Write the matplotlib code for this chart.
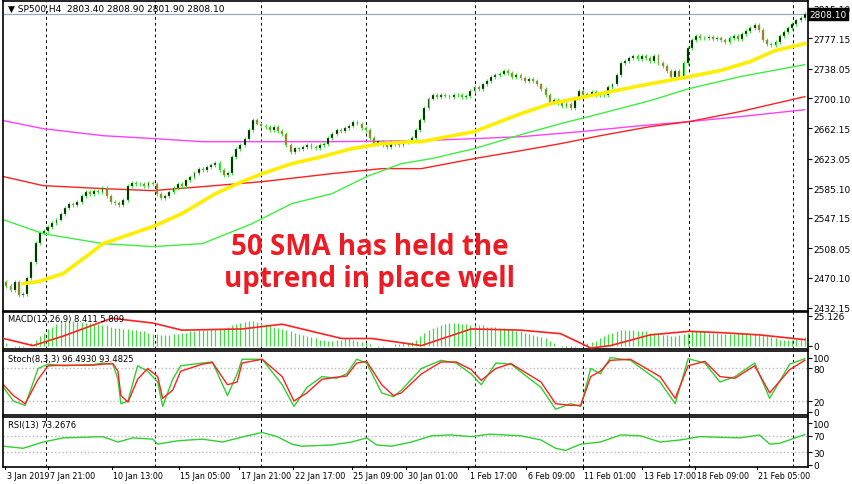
import numpy as np
import matplotlib
matplotlib.use("Agg")
from matplotlib import pyplot as plt

# closes of the H4 candles (bar index 0..)
closes = [2460, 2455, 2465, 2448, 2450, 2470, 2490, 2515, 2528, 2530, 2535, 2540,
          2545, 2552, 2560, 2565, 2563, 2568, 2575, 2580, 2578, 2582, 2580, 2585,
          2575, 2568, 2566, 2564, 2570, 2588, 2592, 2590, 2591, 2588, 2592, 2590,
          2578, 2572, 2575, 2580, 2585, 2590, 2588, 2595, 2600, 2605, 2610, 2608,
          2612, 2615, 2618, 2608, 2602, 2605, 2625, 2635, 2640, 2648, 2660, 2672,
          2668, 2665, 2663, 2660, 2664, 2658, 2655, 2640, 2632, 2636, 2635, 2638,
          2640, 2638, 2636, 2640, 2642, 2650, 2655, 2660, 2658, 2662, 2665, 2670,
          2668, 2662, 2660, 2650, 2642, 2645, 2640, 2638, 2645, 2642, 2640, 2644,
          2646, 2650, 2660, 2672, 2688, 2700, 2705, 2702, 2704, 2703, 2702, 2704,
          2705, 2702, 2703, 2710, 2715, 2712, 2718, 2722, 2728, 2730, 2732, 2735,
          2733, 2728, 2730, 2726, 2722, 2725, 2723, 2718, 2712, 2705, 2695, 2698,
          2694, 2690, 2693, 2688, 2700, 2710, 2705, 2706, 2708, 2704, 2706, 2705,
          2715, 2718, 2730, 2745, 2748, 2752, 2755, 2750, 2754, 2752, 2748, 2755,
          2745, 2742, 2735, 2728, 2735, 2728, 2745, 2765, 2775, 2780, 2778, 2777,
          2779, 2776, 2778, 2775, 2772, 2778, 2780, 2776, 2783, 2786, 2790, 2794,
          2788, 2775, 2770, 2768, 2772, 2780, 2785, 2790, 2795, 2800, 2803, 2808.1]
first_open = 2465

# moving averages, read at bar positions
sma50_x = [4, 7.6, 13.6, 20, 23.1, 35, 42, 50, 56.4, 61.2, 68.3, 75.5, 82.6, 89.8, 96.9,
           99.3, 111.9, 123.1, 130.2, 142.1, 151.7, 163.3, 170.7, 177.9, 183.8, 191]
sma50_y = [2462.9, 2465.4, 2475.7, 2501.3, 2514.1, 2535.9, 2552.5, 2578.1, 2593.5, 2603.8,
           2616.6, 2625.5, 2635.7, 2642.2, 2644.7, 2644.7, 2657.6, 2680.6, 2693.4, 2706.2,
           2716.5, 2728.0, 2735.7, 2747.2, 2761.3, 2770.3]
sma100_x = [-0.7, 8.8, 23.1, 35, 46.9, 58.8, 68.3, 77.9, 86.2, 94.5, 101.7, 111.9, 123.1,
            132.6, 142.1, 154, 163.3, 175.5, 191]
sma100_y = [2544.8, 2526.9, 2514.1, 2510.3, 2514.1, 2539.7, 2565.4, 2578.1, 2600.0, 2616.6,
            2623.0, 2635.7, 2653.7, 2667.8, 2680.6, 2697.3, 2712.6, 2728.0, 2743.4]
sma150_x = [-0.7, 8.8, 23.1, 35, 46.9, 61.2, 77.9, 89.8, 99.3, 111.9, 123.1, 132.6, 142.1,
            154, 163.3, 175.5, 191]
sma150_y = [2600.0, 2588.4, 2584.6, 2582.0, 2587.1, 2593.5, 2603.8, 2610.2, 2610.2, 2623.0,
            2633.2, 2642.2, 2652.4, 2664.0, 2670.4, 2683.2, 2702.4]
sma200_x = [-0.7, 8.8, 23.1, 35.5, 46.9, 61.2, 77.9, 99.3, 111.9, 123.1, 137.4, 151.7,
            163.3, 175.5, 191]
sma200_y = [2671.7, 2661.4, 2652.4, 2648.6, 2644.7, 2644.7, 2644.7, 2646.0, 2648.6, 2651.1,
            2657.6, 2665.2, 2670.4, 2676.8, 2685.7]

macd_hist = [2, 0, -1, -2, -1, 0, 2, 5, 8, 11,
             14, 16, 18, 19, 20, 21, 21, 20, 20, 19, 19, 18, 18, 17, 17, 16,
             15, 15, 14, 14, 13, 13, 12, 12, 11, 10, 10, 9, 9, 9, 10, 10, 11, 11, 12, 12,
             13, 13, 13, 14, 14, 15, 15, 16, 17, 18, 19, 20, 21,
             21, 20, 19, 18, 17, 16, 15, 14, 13, 12, 11, 10,
             9, 8, 7, 6, 5, 5, 4, 4, 5, 5, 6, 6, 5, 4, 3, 2,
             1, 0, -1, -1, 0, 0, 1, 1, 2, 2, 3, 5, 8, 11,
             13, 15, 16, 17, 18, 19, 19, 19, 18, 18, 17, 17, 17, 17, 16, 16, 16, 15, 15, 14,
             13, 12, 12, 11, 10, 9, 8, 7, 6, 4, 2, 0, -1, -2, -2, -1, 0, 1, 2,
             3, 4, 6, 8, 10, 11, 12, 13, 13, 13, 13, 12, 12, 12, 11, 11, 10, 9, 9, 8, 8,
             9, 10, 11, 12, 12, 12, 12, 11, 11, 11, 10, 10, 10, 10, 11, 11, 11, 10, 10, 9,
             9, 8, 7, 6, 5, 5, 5, 5, 6, 6, 7]
signal_x = [-0.7, 6.4, 13.6, 25.2, 35, 42, 56.4, 66, 70.7, 80.2, 87.4, 99.3, 111.2, 123.1,
            132.6, 139.8, 144.5, 154, 163.3, 170.4, 180.2, 191]
signal_y = [6, 0, 8, 23, 19, 13, 14, 18, 14, 6, 6, 0, 14, 13, 10, -2, 0, 9, 12, 11, 9, 5]

stoch_x = [-0.7, 1.7, 4.5, 7.6, 10, 13.6, 20.7, 23.1, 25.5, 26.7, 27.4, 29.1, 31.4, 33.8,
           36.2, 37.4, 39.8, 41.7, 46.9, 49.3, 52.9, 55.2, 56.4, 61.2, 66, 68.8, 71.9, 75.5,
           79, 81.4, 83.8, 86.2, 89.8, 92.6, 94.5, 99.3, 104, 107.6, 111.2, 113.6, 117.1,
           120.7, 127.9, 131.4, 135, 137.4, 139.8, 142.1, 144.5, 149.3, 156.4, 160, 163.1,
           167.1, 170.7, 174.3, 179, 182.6, 187.4, 191]
stoch_k = [45, 20, 12, 80, 88, 85, 87, 90, 88, 60, 15, 20, 85, 75, 55, 10, 60, 85, 90, 92,
           30, 70, 97, 97, 50, 10, 45, 65, 62, 70, 97, 90, 35, 28, 40, 80, 95, 90, 70, 50,
           90, 88, 45, 5, 15, 10, 80, 70, 100, 95, 55, 15, 98, 90, 55, 65, 90, 25, 88, 98]
stoch_d = [50, 30, 15, 60, 85, 86, 86, 88, 89, 75, 30, 18, 60, 80, 65, 25, 40, 75, 88, 91,
           50, 55, 90, 97, 65, 20, 35, 60, 64, 66, 90, 93, 50, 30, 35, 70, 92, 92, 78, 58,
           80, 89, 55, 15, 12, 12, 65, 75, 95, 97, 65, 25, 85, 93, 65, 62, 85, 35, 78, 95]

rsi_x = [-0.7, 4, 8.8, 13.6, 23.1, 26.7, 30.2, 35, 36.2, 41, 46.9, 51.7, 57.6, 61.2, 64.8,
         68.3, 70.7, 77.9, 82.6, 86.2, 88.6, 92.1, 96.9, 101.7, 106.4, 111.2, 115.7, 123.1,
         127.9, 131.4, 133.8, 137.4, 142.1, 146.9, 151.7, 156.4, 161.2, 165.9, 175.5, 180.2,
         182.6, 185, 191]
rsi_y = [45, 40, 55, 65, 68, 55, 65, 62, 50, 58, 62, 55, 70, 78, 68, 50, 45, 48, 55, 65, 48,
         45, 55, 70, 72, 68, 74, 70, 60, 40, 35, 50, 55, 72, 70, 55, 60, 68, 65, 72, 50, 52, 73]

date_pos = [-0.2, 10, 25.2, 41.2, 55.7, 68.6, 82.6, 95.7, 110.5, 124.3, 137.9, 152.1, 164.8, 179.5]
date_labels = ['3 Jan 2019', '7 Jan 21:00', '10 Jan 13:00', '15 Jan 05:00', '17 Jan 21:00',
               '22 Jan 17:00', '25 Jan 09:00', '30 Jan 01:00', '1 Feb 17:00', '6 Feb 09:00',
               '11 Feb 01:00', '13 Feb 17:00', '18 Feb 09:00', '21 Feb 05:00']
sep_pos = [9.5, 35.5, 61, 86, 112, 138, 163.3, 188.3]
price_ticks = [2432.15, 2470.10, 2508.05, 2547.15, 2585.10, 2623.05, 2662.15, 2700.10,
               2738.05, 2777.15, 2815.10]

plt.rcParams['font.family'] = ['DejaVu Sans']
fig = plt.figure(figsize=(8.52, 4.85), dpi=100)
L, W = 0.004, 0.944
ax = fig.add_axes([L, 0.357, W, 0.639])
ax_m = fig.add_axes([L, 0.278, W, 0.076])
ax_s = fig.add_axes([L, 0.142, W, 0.132])
ax_r = fig.add_axes([L, 0.035, W, 0.103])
xlim = (-0.7, 191.7)

for a in (ax, ax_m, ax_s, ax_r):
    a.set_xlim(*xlim)
    a.set_xticks([])
    a.yaxis.tick_right()
    a.tick_params(axis='y', labelsize=6.5, length=3, pad=1)
    for s in a.spines.values():
        s.set_linewidth(1.2)
    for p in sep_pos:
        a.axvline(p, color='black', ls=(0, (3, 3)), lw=0.7, zorder=0)

# candles
opens = [first_open] + closes[:-1]
for i, (o, c) in enumerate(zip(opens, closes)):
    lo, hi = min(o, c), max(o, c)
    ax.vlines(i, lo - 2.5, hi + 2.5, color='#33ee33', lw=0.7, zorder=2)
    face = 'black' if c >= o else '#d05a30'
    ax.bar(i, max(hi - lo, 0.8), bottom=lo, width=0.45, color=face,
           edgecolor='#33ee33', lw=0.3, zorder=3)

ax.plot(sma200_x, sma200_y, color='#ff40ff', lw=1.0, zorder=1)
ax.plot(sma150_x, sma150_y, color='#ff2020', lw=1.0, zorder=1)
ax.plot(sma100_x, sma100_y, color='#40ee40', lw=1.0, zorder=1)
ax.plot(sma50_x, sma50_y, color='#ffee00', lw=2.6, zorder=4)

ax.set_ylim(2428, 2825)
ax.set_yticks(price_ticks)
ax.set_yticklabels([f'{v:.2f}' for v in price_ticks])
ax.axhline(2808.10, color='#9aa8bb', lw=0.9, zorder=1)
ax.text(1.002, (2808.10 - 2428) / (2825 - 2428), '2808.10', transform=ax.transAxes,
        fontsize=6.5, color='white', va='center', ha='left',
        bbox=dict(facecolor='black', edgecolor='black', pad=1))
ax.text(0.006, 0.975, '\u25BC SP500,H4  2803.40 2808.90 2801.90 2808.10',
        transform=ax.transAxes, fontsize=6.5, va='center', ha='left')
ax.text(0.455, 0.155, '50 SMA has held the\nuptrend in place well',
        transform=ax.transAxes, fontsize=20, fontweight='bold', color='#ed1c24',
        ha='center', va='center', linespacing=1.15, family='Open Sans', zorder=6)

# MACD
ax_m.vlines(range(len(macd_hist)), 0, macd_hist, color='#40dd40', lw=0.9, zorder=2)
ax_m.plot(signal_x, signal_y, color='#ff2020', lw=1.2, zorder=3)
ax_m.set_ylim(-3, 28)
ax_m.set_yticks([25.126, 0])
ax_m.set_yticklabels(['25.126', '0'])
ax_m.text(0.006, 0.82, 'MACD(12,26,9) 8.411 5.809', transform=ax_m.transAxes,
          fontsize=6, va='center')

# Stochastic
ax_s.plot(stoch_x, stoch_k, color='#30d030', lw=1.0)
ax_s.plot(stoch_x, stoch_d, color='#ff2020', lw=1.0)
for lv in (80, 20):
    ax_s.axhline(lv, color='#bbbbbb', ls=':', lw=1.0, zorder=0)
ax_s.set_ylim(-6, 112)
ax_s.set_yticks([100, 80, 20, 0])
ax_s.text(0.006, 0.88, 'Stoch(8,3,3) 96.4930 93.4825', transform=ax_s.transAxes,
          fontsize=6, va='center')

# RSI
ax_r.plot(rsi_x, rsi_y, color='#30d030', lw=1.0)
for lv in (70, 30):
    ax_r.axhline(lv, color='#bbbbbb', ls=':', lw=1.0, zorder=0)
ax_r.set_ylim(-5, 115)
ax_r.set_yticks([100, 70, 30, 0])
ax_r.text(0.006, 0.86, 'RSI(13) 73.2676', transform=ax_r.transAxes,
          fontsize=6, va='center')

for p, lab in zip(date_pos, date_labels):
    ax_r.text(p + 0.4, -0.08, lab, transform=ax_r.get_xaxis_transform(), fontsize=5.8,
              ha='left', va='top')
    ax_r.plot([p, p], [-0.03, 0], transform=ax_r.get_xaxis_transform(), color='black',
              lw=0.8, clip_on=False)

fig.savefig('out.png', dpi=100, facecolor='white')
